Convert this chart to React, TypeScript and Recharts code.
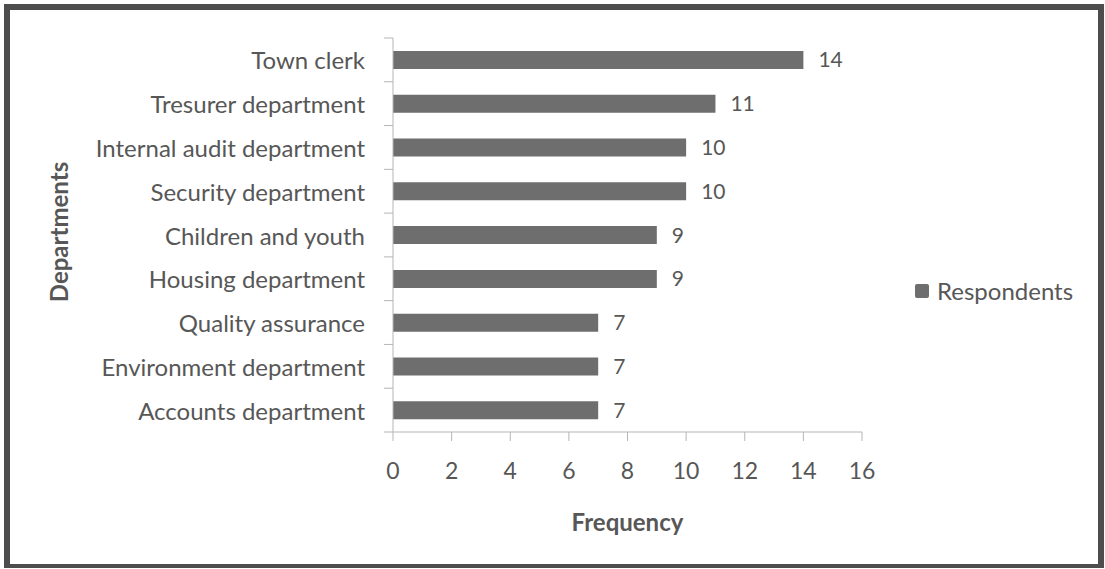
import { BarChart, Bar, XAxis, YAxis, Legend, LabelList } from "recharts"

const departments = [
  "Town clerk",
  "Tresurer department",
  "Internal audit department",
  "Security department",
  "Children and youth",
  "Housing department",
  "Quality assurance",
  "Environment department",
  "Accounts department",
]
const respondents = [14, 11, 10, 10, 9, 9, 7, 7, 7]
const frequencyTicks = [0, 2, 4, 6, 8, 10, 12, 14, 16]

const data = departments.map((name, i) => ({ name, respondents: respondents[i] }))

const FONT = "Lato, 'Open Sans', sans-serif"
const TEXT = "#575757"
const BAR = "#6e6e6e"
const AXIS = "#b5b5b5"
const BAND = 394 / departments.length

// category label plus the small boundary ticks between categories
const DeptTick = (props: any) => {
  const { x, y, payload, index } = props
  const axisX = x + 28
  return (
    <g>
      <line x1={axisX - 9} x2={axisX} y1={y - BAND / 2} y2={y - BAND / 2} stroke={AXIS} />
      {index === departments.length - 1 && (
        <line x1={axisX - 9} x2={axisX} y1={y + BAND / 2} y2={y + BAND / 2} stroke={AXIS} />
      )}
      <text x={x} y={y} textAnchor="end" dominantBaseline="central" fill={TEXT} fontSize={24} fontFamily={FONT}>
        {payload.value}
      </text>
    </g>
  )
}

const DeptTitle = (props: any) => {
  const { x, y, height } = props.viewBox
  const cx = x + 58
  const cy = y + height / 2 - 3
  return (
    <text
      x={cx}
      y={cy}
      transform={`rotate(-90, ${cx}, ${cy})`}
      textAnchor="middle"
      dominantBaseline="central"
      fill={TEXT}
      fontSize={24}
      fontWeight="bold"
      fontFamily={FONT}
    >
      Departments
    </text>
  )
}

const LegendBox = () => (
  <div style={{ display: "flex", alignItems: "center", fontFamily: FONT, fontSize: 24, color: TEXT }}>
    <span style={{ width: 14, height: 14, background: BAR, borderRadius: 2, marginRight: 8 }} />
    Respondents
  </div>
)

export default function App() {
  return (
    <div style={{ position: "absolute", left: 0, top: 0, width: 1105, height: 569, background: "#fff" }}>
      <BarChart
        width={1105}
        height={569}
        data={data}
        layout="vertical"
        margin={{ top: 38, right: 243, bottom: 0, left: 0 }}
      >
        <XAxis
          type="number"
          domain={[0, 16]}
          ticks={frequencyTicks}
          tickCount={9}
          height={137}
          tickSize={9}
          tickMargin={22}
          stroke={AXIS}
          tick={{ fill: TEXT, fontSize: 23, fontFamily: FONT }}
          label={{
            value: "Frequency",
            position: "insideBottom",
            offset: 38,
            fill: TEXT,
            fontSize: 24,
            fontWeight: "bold",
            fontFamily: FONT,
          }}
        />
        <YAxis
          type="category"
          dataKey="name"
          width={393}
          tickSize={8}
          tickMargin={20}
          tickLine={false}
          stroke={AXIS}
          tick={<DeptTick />}
          interval={0}
          label={<DeptTitle />}
        />
        <Legend
          layout="horizontal"
          align="center"
          verticalAlign="middle"
          content={<LegendBox />}
          wrapperStyle={{ left: 915, top: 276, width: 185, right: "auto" }}
        />
        <Bar dataKey="respondents" name="Respondents" fill={BAR} barSize={18} isAnimationActive={false}>
          <LabelList dataKey="respondents" position="right" offset={15} fill={TEXT} fontSize={21} fontFamily={FONT} />
        </Bar>
      </BarChart>
      <div
        style={{
          position: "absolute",
          left: 4,
          top: 4,
          width: 1100,
          height: 564,
          boxSizing: "border-box",
          borderStyle: "solid",
          borderColor: "#4d4d4d",
          borderWidth: "6px 6px 4px 6px",
          pointerEvents: "none",
        }}
      />
    </div>
  )
}
